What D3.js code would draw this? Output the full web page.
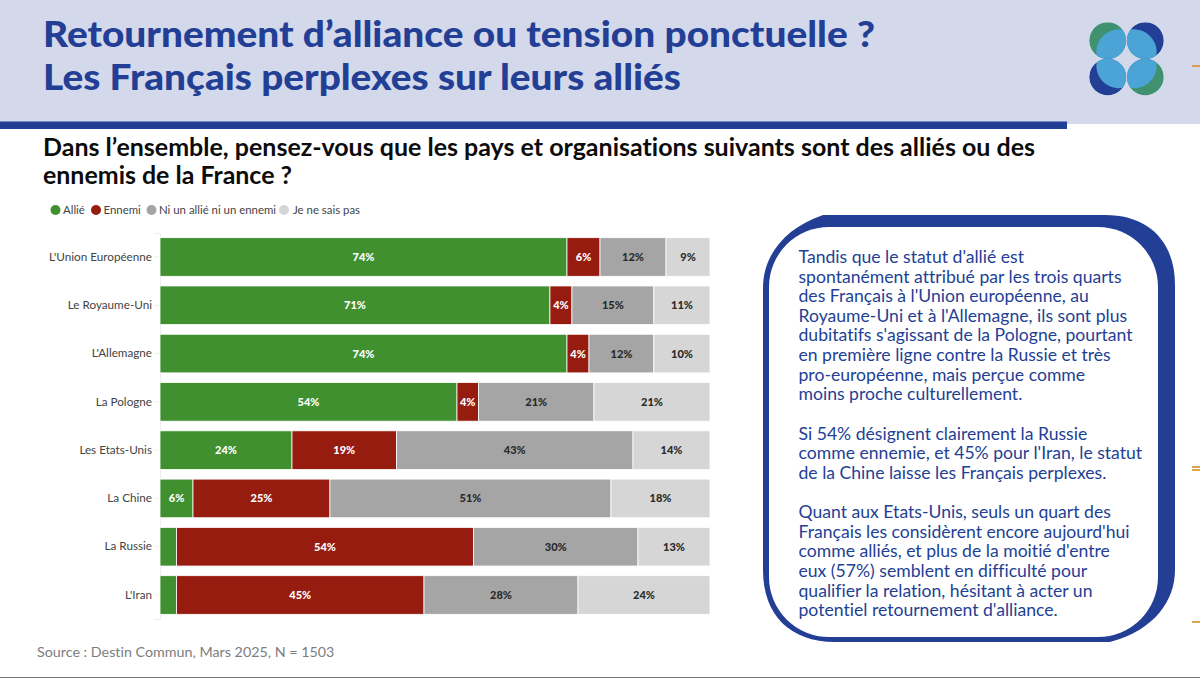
<!DOCTYPE html>
<html lang="fr"><head><meta charset="utf-8">
<script src="https://cdn.jsdelivr.net/npm/d3@7"></script>
<style>html,body{margin:0;padding:0;background:#fff}svg{display:block}text{font-family:Lato,"Noto Sans",sans-serif;font-variant-ligatures:none}</style>
</head><body><svg id="c" width="1200" height="678"></svg>
<script>
const categories=["L'Union Européenne","Le Royaume-Uni","L'Allemagne","La Pologne","Les Etats-Unis","La Chine","La Russie","L'Iran"];
const seriesNames=["Allié","Ennemi","Ni un allié ni un ennemi","Je ne sais pas"];
const seriesColors=["#40902f","#971c10","#a5a5a5","#d6d6d6"];
const allie=[74,70.9,74,54,24,6,3,3];
const ennemi=[6,4,4,3.9,19,24.9,54,45];
const niNi=[12,14.9,11.8,21,43,51.1,29.9,28];
const nsp=[8,10.2,10.2,21.1,14,18,13.1,24];
const allieLabels=["74%","71%","74%","54%","24%","6%","",""];
const ennemiLabels=["6%","4%","4%","4%","19%","25%","54%","45%"];
const niNiLabels=["12%","15%","12%","21%","43%","51%","30%","28%"];
const nspLabels=["9%","11%","10%","21%","14%","18%","13%","24%"];
const titleLines=["Retournement d’alliance ou tension ponctuelle ?","Les Français perplexes sur leurs alliés"];
const questionLines=["Dans l’ensemble, pensez-vous que les pays et organisations suivants sont des alliés ou des","ennemis de la France ?"];
const panelLines=["Tandis que le statut d'allié est","spontanément attribué par les trois quarts","des Français à l'Union européenne, au","Royaume-Uni et à l'Allemagne, ils sont plus","dubitatifs s'agissant de la Pologne, pourtant","en première ligne contre la Russie et très","pro-européenne, mais perçue comme","moins proche culturellement.","","Si 54% désignent clairement la Russie","comme ennemie, et 45% pour l'Iran, le statut","de la Chine laisse les Français perplexes.","","Quant aux Etats-Unis, seuls un quart des","Français les considèrent encore aujourd'hui","comme alliés, et plus de la moitié d'entre","eux (57%) semblent en difficulté pour","qualifier la relation, hésitant à acter un","potentiel retournement d'alliance."];
const sourceText="Source : Destin Commun, Mars 2025, N = 1503";

const svg=d3.select("#c");
const navy="#233f95";
svg.append("rect").attr("width",1200).attr("height",124).attr("fill","#d3d9ea");
svg.append("rect").attr("y",121.5).attr("width",1067).attr("height",7.5).attr("fill",navy);
[[66],[467],[470],[622]].forEach(([y])=>svg.append("rect").attr("x",1192).attr("y",y-.9).attr("width",8).attr("height",1.8).attr("fill","#d9993e"));
svg.append("rect").attr("y",677).attr("width",1200).attr("height",1).attr("fill","#777");

svg.append("g").selectAll("text").data(titleLines).join("text")
 .attr("x",43).attr("y",(d,i)=>47+i*43).attr("font-size",36).attr("font-weight",900).attr("fill",navy).attr("textLength",(d,i)=>i?638:832).attr("lengthAdjust","spacingAndGlyphs").text(d=>d);
svg.append("g").selectAll("text").data(questionLines).join("text")
 .attr("x",43).attr("y",(d,i)=>156+i*27.5).attr("font-size",24).attr("font-weight",700).attr("fill","#0c0c0c").attr("textLength",(d,i)=>i?249:992).attr("lengthAdjust","spacingAndGlyphs").text(d=>d);

// logo
const defs=svg.append("defs");
const logo=[[1107.7,40.7,"#3f9170",1,1],[1145.3,40.7,"#233f95",-1,1],[1107.7,77,"#233f95",1,-1],[1145.3,77,"#3f9170",-1,-1]];
logo.forEach(([cx,cy,col,sx,sy],i)=>{
 defs.append("clipPath").attr("id","lc"+i).append("circle").attr("cx",cx).attr("cy",cy).attr("r",18.5);
 const g=svg.append("g").attr("clip-path",`url(#lc${i})`);
 g.append("circle").attr("cx",cx).attr("cy",cy).attr("r",18.5).attr("fill",col);
 g.append("ellipse").attr("cx",cx+sx*8.5).attr("cy",cy+sy*8.5).attr("rx",21).attr("ry",18.6)
  .attr("transform",`rotate(${sx*sy>0?-45:45} ${cx+sx*8.5} ${cy+sy*8.5})`).attr("fill","#4ba3d6");
});

// legend
let lx=[50.5,91,146.5,279];
let ltx=[63,103.5,159,293];
const leg=svg.append("g").selectAll("g").data(seriesNames).join("g");
leg.append("circle").attr("cx",(d,i)=>lx[i]+5).attr("cy",210).attr("r",5).attr("fill",(d,i)=>seriesColors[i]);
leg.append("text").attr("x",(d,i)=>ltx[i]).attr("y",214).attr("font-size",11.4).attr("fill","#444").text(d=>d);

// chart
const x=d3.scaleLinear().domain([0,100]).range([160,710]);
const y=d3.scaleBand().domain(categories).range([232.85,619.15]).paddingInner(.2).paddingOuter(.1);
const keys=[0,1,2,3];
const cols=[allie,ennemi,niNi,nsp], labs=[allieLabels,ennemiLabels,niNiLabels,nspLabels];
const rows=categories.map((c,i)=>{const o={c};keys.forEach(k=>o[k]=cols[k][i]);return o;});
const stack=d3.stack().keys(keys)(rows);
const ax=d3.axisLeft(y).tickSize(6).tickPadding(2);
const axg=svg.append("g").attr("transform","translate(160,0)").call(ax);
axg.select(".domain").attr("stroke","#eee");
axg.selectAll(".tick line").attr("stroke","#eee");
axg.selectAll("text").attr("font-size",11.7).attr("fill","#444").style("font-family","Lato");
stack.forEach((s,k)=>{
 const g=svg.append("g").attr("fill",seriesColors[k]);
 g.selectAll("rect").data(s).join("rect").attr("x",d=>x(d[0])).attr("y",d=>y(d.data.c)).attr("width",d=>x(d[1])-x(d[0])).attr("height",y.bandwidth()).attr("stroke","#fff").attr("stroke-width",.8);
 svg.append("g").selectAll("text").data(s).join("text")
  .attr("x",d=>(x(d[0])+x(d[1]))/2).attr("y",d=>y(d.data.c)+y.bandwidth()/2+4).attr("text-anchor","middle").attr("font-size",11).attr("font-weight",900)
  .attr("fill",k<2?"#fff":"#2a2a2a").text((d,i)=>labs[k][i]);
});

svg.append("text").attr("x",37).attr("y",657).attr("font-size",14.3).attr("fill","#7d7d7d").text(sourceText);

// panel
svg.append("path").attr("fill",navy).attr("d","M823,215 H1105 C1150,215 1175,243 1175,285 V570 C1175,600 1155,630 1110,642 H835 C790,642 763,615 763,570 V288 C763,255 785,228 823,215 Z");
svg.append("rect").attr("x",769).attr("y",227).attr("width",389).attr("height",410).attr("rx",60).attr("fill","#fff");
svg.append("g").selectAll("text").data(panelLines).join("text")
 .attr("x",798.5).attr("y",(d,i)=>263+i*19.62).attr("font-size",17.6).attr("fill",navy).text(d=>d);
</script></body></html>
